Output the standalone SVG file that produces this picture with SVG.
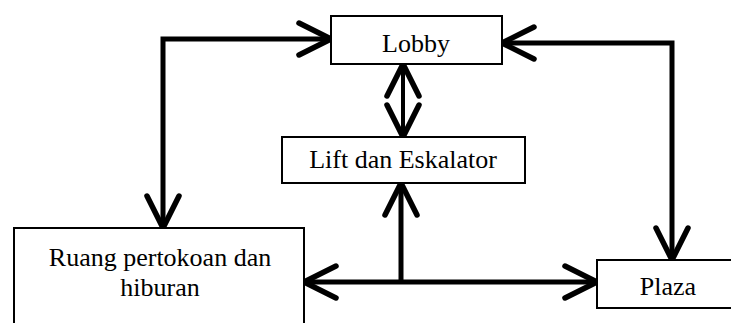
<svg xmlns="http://www.w3.org/2000/svg" width="731" height="323" viewBox="0 0 731 323">
  <style>
    .box { fill: #ffffff; stroke: #000000; stroke-width: 2; }
    .label { font-family: "Liberation Serif", "Times New Roman", serif; font-size: 26px; fill: #000000; text-anchor: middle; }
    .link { fill: none; stroke: #000000; stroke-width: 5; stroke-linejoin: miter; marker-start: url(#head); marker-end: url(#head); }
    .link.one-way { marker-start: none; }
  </style>
  <defs>
    <!-- open V arrowhead, tip at the path end -->
    <marker id="head" markerUnits="userSpaceOnUse" viewBox="-36 -20 40 40" markerWidth="40" markerHeight="40" refX="0" refY="0" orient="auto-start-reverse">
      <path d="M-32,-16 L0,0 L-32,16" fill="none" stroke="#000000" stroke-width="5.5" stroke-linecap="round" stroke-linejoin="round"/>
    </marker>
  </defs>

  <rect width="731" height="323" fill="#ffffff"/>

  <g id="connectors">
    <path class="link" d="M331,39 H163 V228"/>
    <path class="link" d="M502,43 H672 V260"/>
    <path class="link" d="M403,64 V137" style="stroke-width:4"/>
    <path class="link" d="M304,282 H597"/>
    <path class="link one-way" d="M401,282 V183"/>
  </g>

  <g id="lobby">
    <rect class="box" x="331" y="16" width="171" height="48"/>
    <text class="label" x="416" y="52">Lobby</text>
  </g>

  <g id="lift-eskalator">
    <rect class="box" x="282" y="137" width="243" height="46"/>
    <text class="label" x="403" y="168">Lift dan Eskalator</text>
  </g>

  <g id="ruang-pertokoan">
    <rect class="box" x="14" y="228" width="290" height="110"/>
    <text class="label" x="160" y="266">Ruang pertokoan dan</text>
    <text class="label" x="160" y="296">hiburan</text>
  </g>

  <g id="plaza">
    <rect class="box" x="597" y="260" width="150" height="48"/>
    <text class="label" x="668" y="295">Plaza</text>
  </g>
</svg>
